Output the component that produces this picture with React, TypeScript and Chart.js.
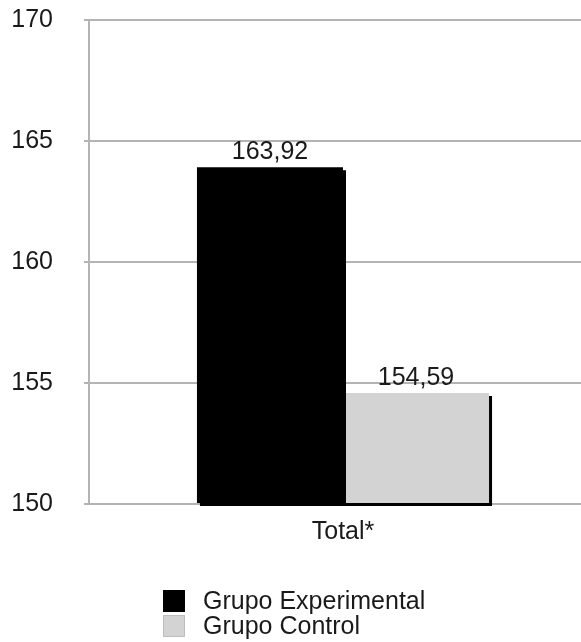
import React, { useEffect, useRef } from "react";
import { Chart, registerables } from "chart.js";

Chart.register(...registerables);

const categories = ["Total*"];
const seriesNames = ["Grupo Experimental", "Grupo Control"];
const experimentalValues = [163.92];
const controlValues = [154.59];
const experimentalLabels = ["163,92"];
const controlLabels = ["154,59"];
const yTickValues = [150, 155, 160, 165, 170];
const seriesColors = ["#000000", "#d3d3d3"];

const FONT = "'Liberation Sans', Arial, sans-serif";
const TEXT = "#1a1a1a";
const GRID = "#b4b4b4";

const shadowPlugin = {
  id: "barShadow",
  beforeDatasetDraw(chart: any) {
    const ctx = chart.ctx;
    ctx.save();
    ctx.shadowColor = "#000000";
    ctx.shadowOffsetX = 3;
    ctx.shadowOffsetY = 3;
    ctx.shadowBlur = 0;
  },
  afterDatasetDraw(chart: any) {
    chart.ctx.restore();
  },
};

const valueLabelPlugin = {
  id: "valueLabels",
  afterDatasetsDraw(chart: any) {
    const ctx = chart.ctx;
    const labelSets = [experimentalLabels, controlLabels];
    ctx.save();
    ctx.font = `25px ${FONT}`;
    ctx.fillStyle = TEXT;
    ctx.textAlign = "center";
    ctx.textBaseline = "alphabetic";
    chart.data.datasets.forEach((_: any, di: number) => {
      const meta = chart.getDatasetMeta(di);
      meta.data.forEach((el: any, i: number) => {
        ctx.fillText(labelSets[di][i], el.x, el.y - 8);
      });
    });
    ctx.restore();
  },
};

const legendPlugin = {
  id: "customLegend",
  afterDraw(chart: any) {
    const ctx = chart.ctx;
    const x0 = 163;
    const y0 = 590;
    const box = 22;
    const row = 25;
    ctx.save();
    ctx.font = `25px ${FONT}`;
    ctx.textAlign = "left";
    ctx.textBaseline = "alphabetic";
    seriesNames.forEach((name, i) => {
      const y = y0 + i * row;
      ctx.fillStyle = seriesColors[i];
      ctx.fillRect(x0, y, box, box);
      if (i === 1) {
        ctx.strokeStyle = "#bdbdbd";
        ctx.lineWidth = 1;
        ctx.strokeRect(x0 + 0.5, y + 0.5, box - 1, box - 1);
      }
      ctx.fillStyle = TEXT;
      ctx.fillText(name, x0 + 40, y + 19);
    });
    ctx.restore();
  },
};

export default function App() {
  const canvasRef = useRef<HTMLCanvasElement | null>(null);

  useEffect(() => {
    document.body.style.margin = "0";
    const canvas = canvasRef.current;
    if (!canvas) return;
    const base = yTickValues[0];
    const chart = new Chart(canvas, {
      type: "bar",
      data: {
        labels: categories,
        datasets: [
          {
            label: seriesNames[0],
            data: experimentalValues,
            backgroundColor: seriesColors[0],
            borderWidth: 0,
            barPercentage: 1,
            categoryPercentage: 0.575,
            base,
            clip: false as any,
          },
          {
            label: seriesNames[1],
            data: controlValues,
            backgroundColor: seriesColors[1],
            borderWidth: 0,
            barPercentage: 1,
            categoryPercentage: 0.575,
            base,
            clip: false as any,
          },
        ],
      },
      options: {
        responsive: false,
        animation: false,
        devicePixelRatio: 1,
        layout: { padding: { left: 11, top: 20, right: 0, bottom: 95 } },
        plugins: {
          legend: { display: false },
          tooltip: { enabled: false },
          title: { display: false },
        },
        scales: {
          x: {
            grid: { display: false, drawTicks: false },
            border: { display: false },
            ticks: {
              font: { family: FONT, size: 25 },
              color: TEXT,
              padding: 13,
            },
            afterFit: (scale: any) => {
              scale.height = 43;
              scale.paddingLeft = 0;
              scale.paddingRight = 0;
            },
          },
          y: {
            min: yTickValues[0],
            max: yTickValues[yTickValues.length - 1],
            afterBuildTicks: (scale: any) => {
              scale.ticks = yTickValues.map((v) => ({ value: v }));
            },
            grid: { color: GRID, lineWidth: 2, tickLength: 5, drawTicks: true },
            border: { display: true, color: GRID, width: 2 },
            ticks: {
              font: { family: FONT, size: 25 },
              color: TEXT,
              padding: 31,
              callback: (v: any) => String(v),
            },
            afterFit: (scale: any) => {
              scale.width = 78;
              scale.paddingTop = 0;
              scale.paddingBottom = 0;
            },
          },
        },
      },
      plugins: [shadowPlugin, valueLabelPlugin, legendPlugin],
    });
    return () => chart.destroy();
  }, []);

  return (
    <div style={{ width: 581, height: 642, overflow: "hidden", background: "#fff" }}>
      <canvas ref={canvasRef} width={597} height={642} style={{ display: "block" }} />
    </div>
  );
}
